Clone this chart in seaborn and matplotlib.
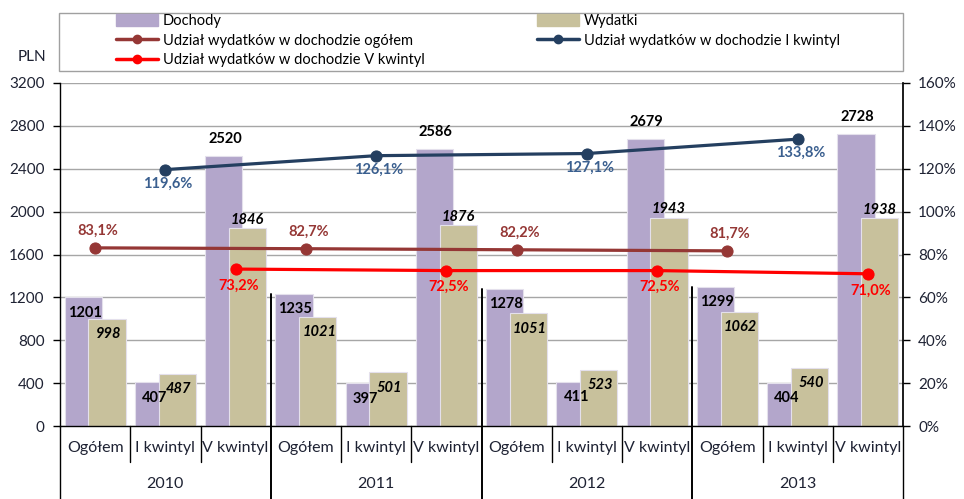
import numpy as np
import pandas as pd
import seaborn as sns
import matplotlib.pyplot as plt
from matplotlib.patches import Patch, Rectangle
from matplotlib.lines import Line2D
from matplotlib.transforms import blended_transform_factory

# data
lata = ["2010", "2011", "2012", "2013"]
grupy = ["Ogółem", "I kwintyl", "V kwintyl"]
dochody = [1201, 407, 2520, 1235, 397, 2586, 1278, 411, 2679, 1299, 404, 2728]
wydatki = [998, 487, 1846, 1021, 501, 1876, 1051, 523, 1943, 1062, 540, 1938]
udzial_ogolem = [83.1, 82.7, 82.2, 81.7]
udzial_i = [119.6, 126.1, 127.1, 133.8]
udzial_v = [73.2, 72.5, 72.5, 71.0]

C_DOCH = "#B3A6CB"
C_WYD = "#C8C19C"
C_OG = "#953735"
C_I = "#243F60"
C_I_TXT = "#3A5F8F"
C_V = "#FF0000"
C_TXT = "#1E2233"

sns.set_theme(style="white")
plt.rcParams["font.family"] = ["Lato", "DejaVu Sans"]

n = len(lata) * len(grupy)
df = pd.DataFrame({
    "poz": list(range(n)) * 2,
    "seria": ["Dochody"] * n + ["Wydatki"] * n,
    "wartosc": dochody + wydatki,
})

fig = plt.figure(figsize=(9.64, 4.99), dpi=100)
ax = fig.add_axes([60 / 964, 1 - 426 / 499, 843 / 964, 343 / 499])

sns.barplot(data=df, x="poz", y="wartosc", hue="seria",
            palette={"Dochody": C_DOCH, "Wydatki": C_WYD},
            width=0.68, dodge=True, ax=ax, legend=False, saturation=1,
            edgecolor="#E4E0EC", linewidth=0.8)

# widen the bars so they overlap like in the original
for p in ax.patches:
    c = p.get_x() + p.get_width() / 2
    p.set_width(0.53)
    p.set_x(c - 0.265)

ax.set_xlim(-0.5, n - 0.5)
ax.set_ylim(0, 3200)
ax.set_yticks(range(0, 3201, 400))
ax.set_xlabel("")
ax.set_ylabel("")
ax.set_xticks([])
ax.yaxis.grid(True, color="#A6A6A6", linewidth=1)
ax.set_axisbelow(True)
ax.tick_params(axis="y", direction="out", length=5, width=1, pad=6,
               labelsize=11, colors="black", labelcolor=C_TXT, left=True)
for s in ["top", "right"]:
    ax.spines[s].set_visible(False)
for s in ["left", "bottom"]:
    ax.spines[s].set_color("black")
    ax.spines[s].set_linewidth(1)

# bar value labels
for i in range(n):
    k = i % 3
    xd = i - 0.17
    xw = i + 0.17
    if k == 2:
        ax.annotate(str(dochody[i]), (xd, dochody[i]), xytext=(1, 12),
                    textcoords="offset points", ha="center", va="center",
                    fontsize=10.5, fontweight="bold", color="black")
        ax.annotate(str(wydatki[i]), (xw, wydatki[i]), xytext=(0, 6),
                    textcoords="offset points", ha="center", va="center",
                    fontsize=10.5, fontweight="bold", fontstyle="italic", color="black")
    else:
        ax.annotate(str(dochody[i]), (xd, dochody[i]), xytext=(1, -11),
                    textcoords="offset points", ha="center", va="center",
                    fontsize=10.5, fontweight="bold", color="black")
        ax.annotate(str(wydatki[i]), (xw, wydatki[i]), xytext=(1, -11),
                    textcoords="offset points", ha="center", va="center",
                    fontsize=10.5, fontweight="bold", fontstyle="italic", color="black")

# share lines on the right axis
ax2 = ax.twinx()
ax2.set_ylim(0, 160)
ax2.set_yticks(range(0, 161, 20))
ax2.set_yticklabels([f"{v}%" for v in range(0, 161, 20)])
ax2.tick_params(axis="y", direction="out", length=5, width=1, pad=6,
                labelsize=11, colors="black", labelcolor=C_TXT, right=True)
for s in ["top", "left", "bottom"]:
    ax2.spines[s].set_visible(False)
ax2.spines["right"].set_color("black")
ax2.grid(False)

pos_og = [3 * j for j in range(len(lata))]
pos_i = [3 * j + 1 for j in range(len(lata))]
pos_v = [3 * j + 2 for j in range(len(lata))]

series = [
    (pos_og, udzial_ogolem, C_OG, C_OG, 12),
    (pos_i, udzial_i, C_I, C_I_TXT, -10),
    (pos_v, udzial_v, C_V, C_V, -12),
]
for xs, ys, col, tcol, dy in series:
    sns.lineplot(x=xs, y=ys, ax=ax2, color=col, linewidth=2.3, marker="o",
                 markersize=8, markeredgecolor=col, sort=False)
    for x, y in zip(xs, ys):
        ax2.annotate(f"{y:.1f}%".replace(".", ","), (x, y), xytext=(2, dy),
                     textcoords="offset points", ha="center", va="center",
                     fontsize=10.5, fontweight="bold", color=tcol)
ax2.set_xlim(-0.5, n - 0.5)

# category axis drawn by hand (two levels)
tr = blended_transform_factory(ax.transData, ax.transAxes)
for i in range(n):
    ax.text(i, -0.064, grupy[i % 3], transform=tr, ha="center", va="center",
            fontsize=11.5, color=C_TXT, clip_on=False)
for j, rok in enumerate(lata):
    ax.text(3 * j + 1, -0.17, rok, transform=tr, ha="center", va="center",
            fontsize=11.5, color=C_TXT, clip_on=False)
for i in range(n - 1):
    xb = i + 0.5
    if i % 3 == 2:
        top = dochody[i + 1] / 3200
        ax.plot([xb, xb], [-0.213, top], transform=tr, color="black",
                linewidth=1.4, clip_on=False, zorder=5)
    else:
        ax.plot([xb, xb], [-0.105, 0], transform=tr, color="black",
                linewidth=1, clip_on=False)
for xb in [-0.5, n - 0.5]:
    ax.plot([xb, xb], [-0.213, 0], transform=tr, color="black",
            linewidth=1, clip_on=False)

fig.text(32 / 964, 1 - 57 / 499, "PLN", ha="center", va="center",
         fontsize=11, color=C_TXT)

# legend box and entries
fig.patches.append(Rectangle((59 / 964, 1 - 71 / 499), 844 / 964, 58 / 499,
                             transform=fig.transFigure, fill=False,
                             edgecolor="#A0A0A0", linewidth=1))
h_doch = Patch(facecolor=C_DOCH, edgecolor=C_DOCH)
h_wyd = Patch(facecolor=C_WYD, edgecolor=C_WYD)
h_og = Line2D([], [], color=C_OG, lw=2.5, marker="o", markersize=6)
h_i = Line2D([], [], color=C_I, lw=2.5, marker="o", markersize=6)
h_v = Line2D([], [], color=C_V, lw=2.5, marker="o", markersize=6)
leg_kw = dict(loc="upper left", frameon=False, fontsize=10.5, handlelength=2.9,
              handletextpad=0.3, labelspacing=0.38, borderpad=0, borderaxespad=0,
              numpoints=1, handleheight=0.8, bbox_transform=fig.transFigure)
leg1 = fig.legend([h_doch, h_og, h_v],
                  ["Dochody", "Udział wydatków w dochodzie ogółem",
                   "Udział wydatków w dochodzie V kwintyl"],
                  bbox_to_anchor=(116 / 964, 1 - 14 / 499), **leg_kw)
leg2 = fig.legend([h_wyd, h_i],
                  ["Wydatki", "Udział wydatków w dochodzie I kwintyl"],
                  bbox_to_anchor=(537 / 964, 1 - 14 / 499), **leg_kw)
for lg in (leg1, leg2):
    for t in lg.get_texts():
        t.set_color("black")

fig.savefig("out.png", dpi=100)
